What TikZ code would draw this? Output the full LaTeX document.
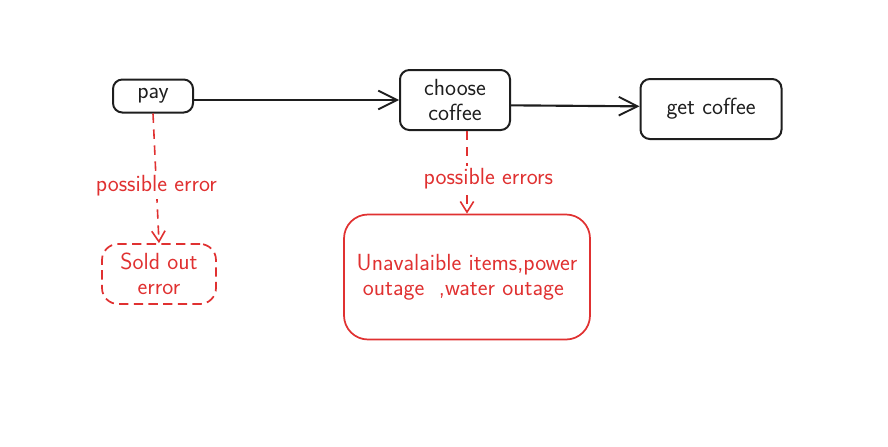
\documentclass[tikz,border=0pt]{standalone}
\usepackage{tikz}
\usetikzlibrary{positioning}
\usetikzlibrary{arrows.meta,shapes}
\definecolor{inkblack}{HTML}{1E1E1E}
\definecolor{inkred}{HTML}{E03131}
\tikzstyle{state} = [draw=inkblack,line width=1.5pt,rounded corners=7pt,align=center,text=inkblack]
\tikzstyle{errbox} = [draw=inkred,line width=1.3pt,rounded corners=12pt,align=center,text=inkred]
\tikzstyle{edge} = [draw=inkblack,line width=1.6pt,-{Straight Barb[length=14pt,width=14pt,line width=1.4pt]}]
\tikzstyle{erredge} = [draw=inkred,line width=1.2pt,dash pattern=on 7pt off 5pt,-{Straight Barb[length=8pt,width=10pt,line width=1.2pt]}]
\tikzstyle{errlabel} = [fill=white,text=inkred,inner sep=2pt]

\begin{document}
\begin{tikzpicture}[x=0.75pt,y=-0.75pt,font=\sffamily\fontsize{17.5}{18.75}\selectfont]

  \useasboundingbox (0,0) rectangle (888,446);

  \node[state, minimum width=60pt, minimum height=24.75pt] (pay) at (153,96) {pay};
  \node[state, minimum width=82.5pt, minimum height=45pt] (choose) at (455,100) {choose\\coffee};
  \node[state, minimum width=105.75pt, minimum height=45pt] (get) at (711,109) {get coffee};

  \node[errbox, dash pattern=on 7pt off 4pt, minimum width=85.5pt, minimum height=45pt] (soldout) at (159,274) {Sold out\\error};
  \node[errbox, rounded corners=18pt, minimum width=184.5pt, minimum height=93.75pt] (failures) at (467,277)
    {Unavalaible items,power\\outage \ ,water outage \ };

  \path[edge] ([yshift=-3pt]pay.east) -- (choose.west);
  \path[edge] ([yshift=-4pt]choose.east) -- ([yshift=2pt]get.west);

  \path[erredge] (pay.south) -- node[errlabel, pos=0.56] {possible error} (soldout.north);
  \path[erredge] (choose.south -| failures.north) -- node[errlabel, pos=0.58, xshift=16pt] {possible errors} (failures.north);

\end{tikzpicture}
\end{document}
